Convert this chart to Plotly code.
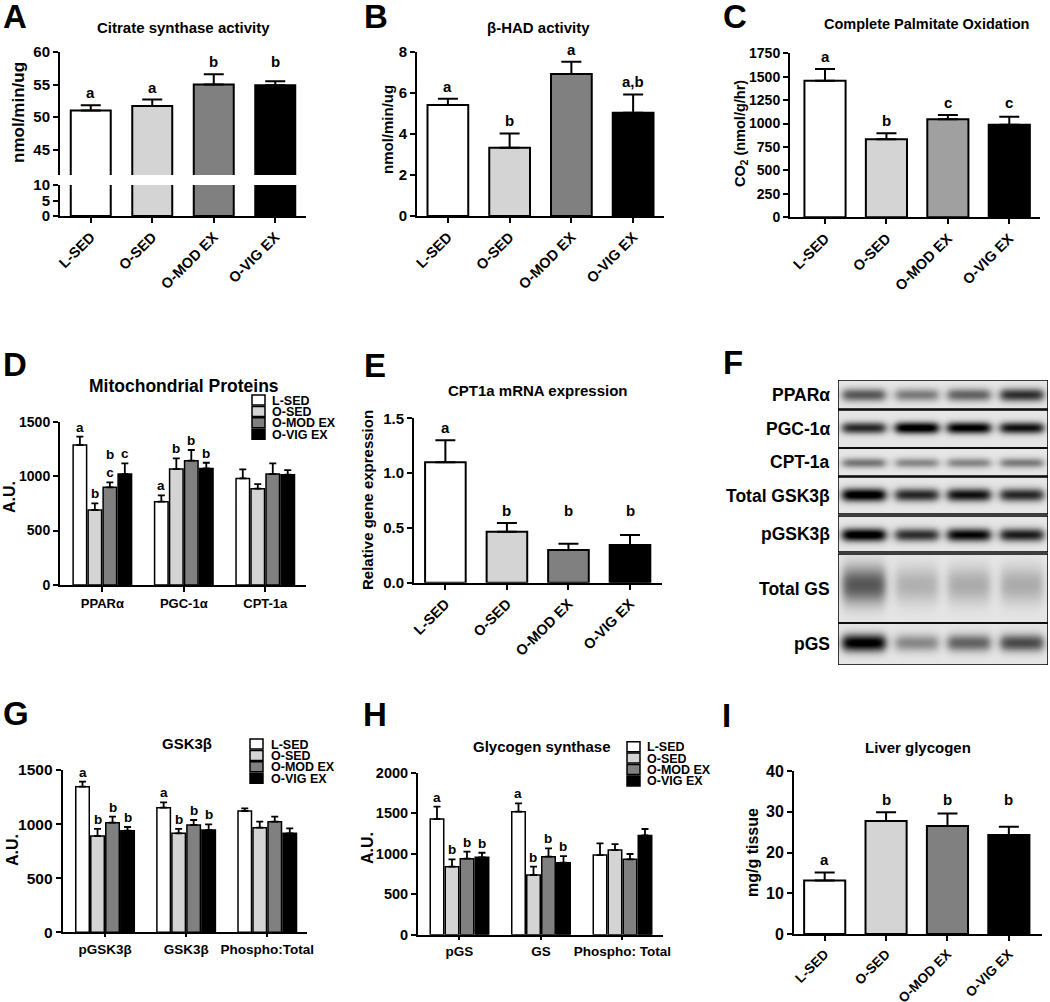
import numpy as np
import plotly.graph_objects as go

W, H = 1050, 1002
FONT = "Arial, 'Liberation Sans', sans-serif"

# ---------------- data ----------------
groups = ["L-SED", "O-SED", "O-MOD EX", "O-VIG EX"]

A_mean = [51.0, 51.7, 55.0, 54.9]
A_top = [51.8, 52.7, 56.6, 55.5]
A_letters = ["a", "a", "b", "b"]
A_letter_at = [51.8, 52.7, 56.6, 56.6]

B_mean = [5.41, 3.33, 6.93, 5.04]
B_top = [5.72, 4.03, 7.53, 5.93]
B_letters = ["a", "b", "a", "a,b"]
B_letter_at = [5.72, 4.03, 7.53, 5.93]

C_mean = [1457, 832, 1046, 988]
C_top = [1582, 896, 1092, 1073]
C_letters = ["a", "b", "c", "c"]
C_letter_at = [1582, 896, 1092, 1092]

E_mean = [1.10, 0.465, 0.298, 0.344]
E_top = [1.30, 0.545, 0.356, 0.435]
E_letters = ["a", "b", "b", "b"]
E_letter_at = [1.30, 0.545, 0.545, 0.545]

I_mean = [13.1, 27.7, 26.5, 24.3]
I_top = [15.1, 29.9, 29.6, 26.3]
I_letters = ["a", "b", "b", "b"]
I_letter_at = [15.1, 29.9, 29.9, 29.9]

D_cats = ["PPARα", "PGC-1α", "CPT-1a"]
D_mean = {"L-SED": [1286, 765, 979], "O-SED": [689, 1065, 885],
          "O-MOD EX": [897, 1142, 1019], "O-VIG EX": [1019, 1071, 1013]}
D_top = {"L-SED": [1362, 823, 1062], "O-SED": [750, 1163, 927],
         "O-MOD EX": [943, 1240, 1117], "O-VIG EX": [1117, 1123, 1056]}
D_letters = {"L-SED": ["a", "a", ""], "O-SED": ["b", "b", ""],
             "O-MOD EX": ["b<br>c", "b", ""], "O-VIG EX": ["c", "b", ""]}

G_cats = ["pGSK3β", "GSK3β", "Phospho:Total"]
G_mean = {"L-SED": [1346, 1152, 1121], "O-SED": [890, 915, 967],
          "O-MOD EX": [1013, 992, 1022], "O-VIG EX": [939, 945, 915]}
G_top = {"L-SED": [1392, 1201, 1146], "O-SED": [955, 955, 1022],
         "O-MOD EX": [1069, 1038, 1069], "O-VIG EX": [973, 998, 961]}
G_letters = {"L-SED": ["a", "a", ""], "O-SED": ["b", "b", ""],
             "O-MOD EX": ["b", "b", ""], "O-VIG EX": ["b", "b", ""]}

H_cats = ["pGS", "GS", "Phospho: Total"]
H_mean = {"L-SED": [1428, 1519, 983], "O-SED": [840, 737, 1045],
          "O-MOD EX": [938, 963, 930], "O-VIG EX": [955, 889, 1226]}
H_top = {"L-SED": [1580, 1621, 1128], "O-SED": [930, 840, 1119],
         "O-MOD EX": [1025, 1066, 996], "O-VIG EX": [1012, 971, 1305]}
H_letters = {"L-SED": ["a", "a", ""], "O-SED": ["b", "b", ""],
             "O-MOD EX": ["b", "b", ""], "O-VIG EX": ["b", "b", ""]}

blot_rows = ["PPARα", "PGC-1α", "CPT-1a", "Total GSK3β", "pGSK3β", "Total GS", "pGS"]
blot_intensity = [
    [0.55, 0.40, 0.50, 0.72],
    [0.75, 1.00, 0.95, 0.85],
    [0.42, 0.35, 0.36, 0.40],
    [1.00, 0.75, 0.85, 0.75],
    [1.00, 0.72, 0.90, 0.80],
    [0.55, 0.20, 0.22, 0.22],
    [0.95, 0.35, 0.50, 0.60],
]

# ---------------- style ----------------
colors = ["#ffffff", "#d4d4d4", "#808080", "#000000"]
colors_C = ["#ffffff", "#d4d4d4", "#a0a0a0", "#000000"]
ROT_FONT = 14.5


def xd(px):
    return px / W


def yd(py):
    return 1 - py / H


fig = go.Figure()
layout = {}
annotations = []
shapes = []


def axname(n, a):
    return f"{a}axis" if n == 1 else f"{a}axis{n}"


def ref(n, a):
    return a if n == 1 else f"{a}{n}"


def set_axes(n, xpx, ypx, xr, yr, tickvals, ticktext, ytickvals, xangle=0,
             xfont=ROT_FONT, yfont=15, showx=True):
    layout[axname(n, "x")] = dict(
        domain=[xd(xpx[0]), xd(xpx[1])], range=xr, anchor=ref(n, "y"),
        showline=showx, linecolor="black", linewidth=2, ticks="outside" if showx else "",
        ticklen=5, tickwidth=2, tickcolor="black", showgrid=False, zeroline=False,
        tickvals=tickvals, ticktext=ticktext, showticklabels=showx,
        tickangle=xangle, tickfont=dict(family=FONT, size=xfont, color="black", weight="bold"),
        fixedrange=True, automargin=False)
    layout[axname(n, "y")] = dict(
        domain=[yd(ypx[1]), yd(ypx[0])], range=yr, anchor=ref(n, "x"),
        showline=True, linecolor="black", linewidth=2, ticks="outside",
        ticklen=5, tickwidth=2, tickcolor="black", showgrid=False, zeroline=False,
        tickvals=ytickvals, tickfont=dict(family=FONT, size=yfont, color="black", weight="bold"),
        fixedrange=True, automargin=False)


def simple_bars(n, mean, top, cols, width=0.66, err=True, capw=10):
    e = [t - m for t, m in zip(top, mean)]
    fig.add_trace(go.Bar(
        x=list(range(len(mean))), y=mean, width=width,
        marker=dict(color=cols, line=dict(color="black", width=2)),
        error_y=dict(type="data", array=e, arrayminus=[0] * len(mean), symmetric=False,
                     color="black", thickness=2, width=capw, visible=err),
        xaxis=ref(n, "x"), yaxis=ref(n, "y"), showlegend=False, hoverinfo="skip"))


def letters(n, xs, ys, txt, size=15, shift=2):
    for x, y, t in zip(xs, ys, txt):
        if t:
            annotations.append(dict(x=x, y=y, xref=ref(n, "x"), yref=ref(n, "y"), text=t,
                                    showarrow=False, yanchor="bottom", yshift=shift,
                                    font=dict(family=FONT, size=size, color="black", weight="bold")))


def text(px, py, t, size=15, anchor="center", angle=0, yanchor="middle", height=None):
    a = dict(x=xd(px), y=yd(py), xref="paper", yref="paper", text=t,
             showarrow=False, xanchor=anchor, yanchor=yanchor, textangle=angle,
             font=dict(family=FONT, size=size, color="black", weight="bold"))
    if height:
        a["height"] = height
    annotations.append(a)


def panel_letter(px, py, t):
    text(px, py, t, 33, anchor="left", height=30)


def grouped(n, cats, means, tops, lets, slot=0.184):
    for k, g in enumerate(groups):
        xs = [i + (k - 1.5) * slot for i in range(len(cats))]
        e = [t - m for t, m in zip(tops[g], means[g])]
        fig.add_trace(go.Bar(
            x=xs, y=means[g], width=slot * 0.9,
            marker=dict(color=colors[k], line=dict(color="black", width=1.5)),
            error_y=dict(type="data", array=e, arrayminus=[0] * len(xs), symmetric=False,
                         color="black", thickness=1.8, width=3.5),
            xaxis=ref(n, "x"), yaxis=ref(n, "y"), showlegend=False, hoverinfo="skip"))
        letters(n, xs, tops[g], lets[g], size=13.5, shift=0)


def legend(px, py0, dy, tx):
    for k, g in enumerate(groups):
        cy = py0 + k * dy
        shapes.append(dict(type="rect", xref="paper", yref="paper",
                           x0=xd(px), x1=xd(px + 13), y0=yd(cy + 5), y1=yd(cy - 5),
                           fillcolor=colors[k], line=dict(color="black", width=1.5)))
        text(tx, cy, g, size=12.5, anchor="left", height=11)


# ---- A (broken axis) ----
set_axes(1, (60, 306), (52, 175), [-0.5, 3.5], [41.1, 60], [], [], [45, 50, 55, 60], showx=False)
set_axes(2, (60, 306), (185, 216), [-0.5, 3.5], [0, 10], [0, 1, 2, 3], groups, [0, 5, 10], xangle=-45)
simple_bars(1, A_mean, A_top, colors, width=0.65)
simple_bars(2, A_mean, A_top, colors, width=0.65, err=False)
letters(1, range(4), A_letter_at, A_letters)
text(183, 27, "Citrate synthase activity", 15)
text(19, 113, "nmol/min/ug", 17, angle=-90)
panel_letter(1, 16, "A")

# ---- B ----
set_axes(3, (417, 664), (52, 216), [-0.5, 3.5], [0, 8], [0, 1, 2, 3], groups, [0, 2, 4, 6, 8], xangle=-45)
simple_bars(3, B_mean, B_top, colors, width=0.66)
letters(3, range(4), B_letter_at, B_letters)
text(538, 27, "β-HAD activity", 15)
text(387, 130, "nmol/min/ug", 15, angle=-90)
panel_letter(362, 16, "B")

# ---- C ----
set_axes(4, (790, 1040), (53.3, 217.3), [-0.57, 3.5], [0, 1750], [0, 1, 2, 3], groups,
         [0, 250, 500, 750, 1000, 1250, 1500, 1750], xangle=-45, yfont=14)
simple_bars(4, C_mean, C_top, colors_C, width=0.67)
letters(4, range(4), C_letter_at, C_letters)
text(926, 24, "Complete Palmitate Oxidation", 14.5)
text(741, 134, "CO<sub>2</sub> (nmol/g/hr)", 14.5, angle=-90)
panel_letter(721, 16, "C")

# ---- D ----
set_axes(5, (60, 306), (421.7, 585), [-0.52, 2.5], [0, 1500], [0, 1, 2], D_cats,
         [0, 500, 1000, 1500], xfont=13, yfont=14)
grouped(5, D_cats, D_mean, D_top, D_letters)
text(184, 386, "Mitochondrial Proteins", 17.5)
text(9, 497, "A.U.", 16, angle=-90)
panel_letter(1, 364, "D")
legend(252, 400, 11.4, 270)

# ---- E ----
set_axes(6, (414, 662), (418.3, 582.7), [-0.51, 3.52], [0, 1.5], [0, 1, 2, 3], groups,
         [0, 0.5, 1.0, 1.5], xangle=-45)
layout["yaxis6"]["tickformat"] = ".1f"
simple_bars(6, E_mean, E_top, colors, width=0.66)
letters(6, range(4), E_letter_at, E_letters)
text(538, 390, "CPT1a mRNA expression", 15)
text(367, 500, "Relative gene expression", 15, angle=-90)
panel_letter(362, 365, "E")

# ---- F (western blot) ----
NX, NY = 210, 285
bx = np.arange(NX) + 0.5
by = np.arange(NY) + 0.5
Z = np.zeros((NY, NX))
row_ext = [(0, 29), (30, 68), (68, 96), (97, 134), (136, 172), (174, 243), (243, 285)]
band_c = [15, 48, 83, 115, 155, 205, 263]
band_s = [4.5, 4.0, 3.5, 4.5, 4.5, 13, 6]
lane_c = [26, 79, 131, 184]
for r, (t, b) in enumerate(row_ext):
    mask = ((by >= t) & (by < b)).astype(float)
    Z += np.outer(mask, np.full(NX, 0.1))
    gy = np.exp(-0.5 * ((by - band_c[r]) / band_s[r]) ** 2) * mask
    for l in range(4):
        gx = 1 / (1 + np.exp((np.abs(bx - lane_c[l]) - 21) / 2.5))
        Z += np.outer(gy, gx) * blot_intensity[r][l]
Z = np.clip(Z, 0, 1)
layout["xaxis7"] = dict(domain=[xd(838), xd(1048)], range=[0, NX], anchor="y7", visible=False,
                        fixedrange=True)
layout["yaxis7"] = dict(domain=[yd(665), yd(380)], range=[NY, 0], anchor="x7", visible=False,
                        fixedrange=True)
fig.add_trace(go.Heatmap(x=bx, y=by, z=Z, zmin=0, zmax=1, showscale=False, hoverinfo="skip",
                         colorscale=[[0, "#ffffff"], [0.1, "#e6e6e6"], [0.5, "#7a7a7a"], [1, "#000000"]],
                         xaxis="x7", yaxis="y7"))
for r, (t, b) in enumerate(row_ext):
    shapes.append(dict(type="rect", xref="x7", yref="y7", x0=0, x1=NX, y0=t, y1=b,
                       line=dict(color="black", width=1.5)))
    text(832, 380 + (t + b) / 2, blot_rows[r], 17.5, anchor="right")
panel_letter(721, 362, "F")

# ---- G ----
set_axes(8, (62.7, 307), (770, 932.3), [-0.522, 2.49], [0, 1500], [0, 1, 2], G_cats,
         [0, 500, 1000, 1500], xfont=13.5, yfont=15.5)
layout["xaxis8"]["ticklen"] = 3
grouped(8, G_cats, G_mean, G_top, G_letters, slot=0.185)
text(187, 743, "GSK3β", 15)
text(12, 850, "A.U.", 16, angle=-90)
panel_letter(1, 713, "G")
legend(250, 744, 11.4, 269)

# ---- H ----
set_axes(9, (418, 663), (772.7, 934.7), [-0.509, 2.497], [0, 2000], [0, 1, 2], H_cats,
         [0, 500, 1000, 1500, 2000], xfont=13.5, yfont=14.5)
layout["xaxis9"]["ticklen"] = 3
grouped(9, H_cats, H_mean, H_top, H_letters, slot=0.184)
text(542, 746, "Glycogen synthase", 15)
text(367, 848, "A.U.", 16, angle=-90)
panel_letter(361, 714, "H")
legend(627, 746.7, 11.4, 645)

# ---- I ----
set_axes(10, (794, 1042), (771, 934), [-0.5, 3.54], [0, 40], [0, 1, 2, 3], groups,
         [0, 10, 20, 30, 40], xangle=-45, yfont=16, xfont=13.5)
simple_bars(10, I_mean, I_top, colors, width=0.67)
letters(10, range(4), I_letter_at, I_letters)
text(918, 747, "Liver glycogen", 15)
text(752, 853, "mg/g tissue", 16, angle=-90)
panel_letter(720, 715, "I")

fig.update_layout(**layout)
fig.update_layout(width=W, height=H,
                  margin=dict(l=0, r=0, t=0, b=0, pad=0, autoexpand=False),
                  paper_bgcolor="white", plot_bgcolor="white", barmode="overlay",
                  annotations=annotations, shapes=shapes,
                  font=dict(family=FONT, color="black"))
fig.write_html("out.html", config={"displayModeBar": False, "staticPlot": True},
               post_script="document.body.style.margin='0px';document.body.style.overflow='hidden';")
